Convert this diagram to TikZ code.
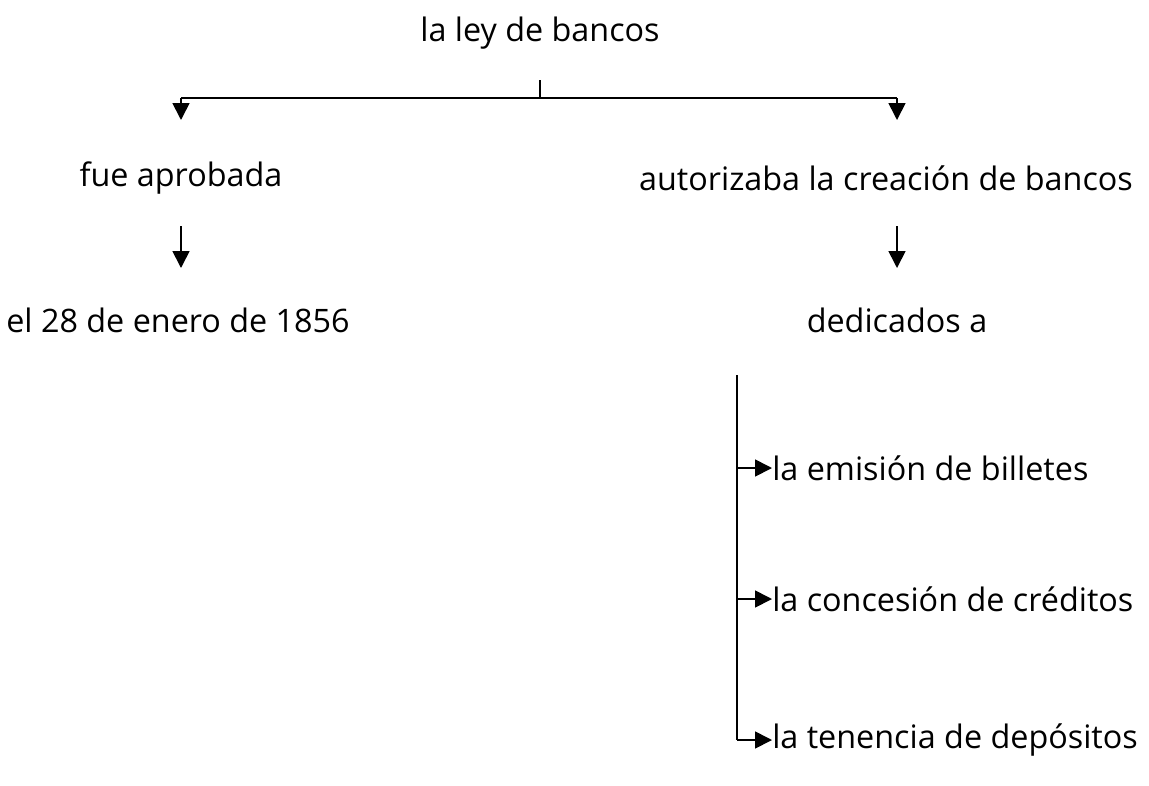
\documentclass[tikz,border=0pt]{standalone}
\usepackage{fontspec}
\setmainfont{Open Sans}
\usetikzlibrary{arrows.meta}
\begin{document}
\begin{tikzpicture}
      % Define styles for nodes and lines
      \tikzstyle{concept} = [inner sep=0pt,font=\fontsize{23}{27}\selectfont]
      \tikzstyle{leaf} = [concept,anchor=west]
      \tikzstyle{link} = [line width=1.2pt]
      \tikzstyle{arrow} = [link,-{Triangle[length=12pt,width=12pt]}]

      % Canvas
      \useasboundingbox (0,0) rectangle (28.725,-19.625);

      % Concepts at top
      \node[concept] (ley) at (13.5,-0.825) {la ley de bancos};
      \node[concept] (aprobada) at (4.525,-4.45) {fue aprobada};
      \node[concept] (autoriza) at (22.15,-4.45) {autorizaba la creación de bancos};

      % Second level
      \node[concept] (fecha) at (4.45,-8.0) {el 28 de enero de 1856};
      \node[concept] (dedicados) at (22.425,-8.0) {dedicados a};

      % Things the banks were for
      \node[leaf] (emision) at (19.3,-11.7) {la emisión de billetes};
      \node[leaf] (concesion) at (19.3,-14.975) {la concesión de créditos};
      \node[leaf] (tenencia) at (19.3,-18.5) {la tenencia de depósitos};

      % Branch points
      \coordinate (tick) at (13.5,-2.0);
      \coordinate (bar) at (13.5,-2.45);
      \coordinate (barL) at (4.525,-2.45);
      \coordinate (barR) at (22.425,-2.45);
      \coordinate (trunk) at (18.425,-9.375);

      % Connections
      \draw[link] (tick) -- (bar);
      \draw[link] (barL) -- (barR);
      \draw[arrow] (barL) -- (4.525,-3.0);
      \draw[arrow] (barR) -- (22.425,-3.0);

      \draw[arrow] (4.525,-5.65) -- (4.525,-6.7);
      \draw[arrow] (22.425,-5.65) -- (22.425,-6.7);

      \draw[link] (trunk) -- (trunk |- tenencia.west);
      \draw[arrow] (trunk |- emision.west) -- (emision.west);
      \draw[arrow] (trunk |- concesion.west) -- (concesion.west);
      \draw[arrow] (trunk |- tenencia.west) -- (tenencia.west);
\end{tikzpicture}
\end{document}
